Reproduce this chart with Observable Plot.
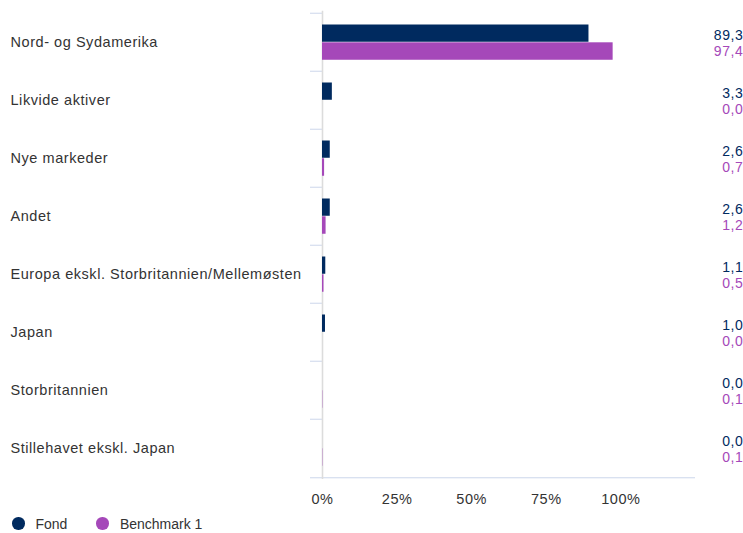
<!DOCTYPE html>
<html><head><meta charset="utf-8">
<script src="https://cdn.jsdelivr.net/npm/d3@7"></script>
<script src="https://cdn.jsdelivr.net/npm/@observablehq/plot@0.6"></script>
<style>
body{margin:0;background:#fff;font-family:"Liberation Sans",Arial,sans-serif;}
svg text{letter-spacing:0.55px;}
#legend{display:flex;align-items:center;height:23px;padding-top:2px;padding-left:12px;font-size:14px;color:#333;}
.item{display:flex;align-items:center;margin-right:29px;}
.dot{width:12.5px;height:12.5px;border-radius:50%;margin-right:11px;}
</style></head><body>
<div id="chart"></div>
<div id="legend"></div>
<script>
const categories = ["Nord- og Sydamerika","Likvide aktiver","Nye markeder","Andet","Europa ekskl. Storbritannien/Mellemøsten","Japan","Storbritannien","Stillehavet ekskl. Japan"];
const fondValues = [89.3, 3.3, 2.6, 2.6, 1.1, 1.0, 0.0, 0.0];
const benchValues = [97.4, 0.0, 0.7, 1.2, 0.5, 0.0, 0.1, 0.1];
const seriesNames = ["Fond", "Benchmark 1"];
const seriesColors = ["#002a5f", "#a548b9"];
const xTicks = [0, 25, 50, 75, 100];

const rows = categories.map((c, i) => ({category: c, fond: fondValues[i], bench: benchValues[i]}));
const fmt = v => d3.format(".1f")(v).replace(".", ",");

const W = 743, H = 510, mL = 322, mR = 48, mT = 10.7, mB = 31;
const bw = (H - mT - mB) / categories.length;
const plotW = W - mL - mR;

const chart = Plot.plot({
  width: W, height: H,
  marginLeft: mL, marginRight: mR, marginTop: mT, marginBottom: mB,
  style: {fontFamily: "'Liberation Sans', Arial, sans-serif", background: "#fff"},
  x: {domain: [0, 125]},
  y: {domain: categories, padding: 0, axis: null},
  marks: [
    Plot.ruleY(categories, {y: d => d, dy: -bw / 2, insetLeft: -12, insetRight: plotW - 1, stroke: "#ccd6eb", strokeWidth: 1}),
    Plot.ruleY([categories[categories.length - 1]], {y: d => d, dy: bw / 2, insetLeft: -12, stroke: "#ccd6eb", strokeWidth: 1}),
    Plot.ruleX([0], {stroke: "#dcdcdc", strokeWidth: 1.6}),
    Plot.barX(rows, {x: "fond", y: "category", fill: seriesColors[0], insetTop: 11.5, insetBottom: bw - 29.3}),
    Plot.barX(rows, {x: "bench", y: "category", fill: seriesColors[1], insetTop: 29.3, insetBottom: bw - 47.3}),
    Plot.text(rows, {y: "category", text: d => d.category, frameAnchor: "left", dx: -312, textAnchor: "start", fontSize: 14.5, fill: "#333"}),
    Plot.text(rows, {y: "category", text: d => fmt(d.fond), frameAnchor: "right", dx: 47.8, dy: -6.5, textAnchor: "end", fontSize: 14, fill: seriesColors[0]}),
    Plot.text(rows, {y: "category", text: d => fmt(d.bench), frameAnchor: "right", dx: 47.8, dy: 9.5, textAnchor: "end", fontSize: 14, fill: seriesColors[1]}),
    Plot.axisX({ticks: xTicks, tickFormat: d => d + "%", tickSize: 0, tickPadding: 14.5, fontSize: 14.5, fill: "#333", label: null})
  ]
});
document.getElementById("chart").appendChild(chart);

const legend = document.getElementById("legend");
seriesNames.forEach((name, i) => {
  const item = document.createElement("div");
  item.className = "item";
  const dot = document.createElement("span");
  dot.className = "dot";
  dot.style.background = seriesColors[i];
  const label = document.createElement("span");
  label.textContent = name;
  item.appendChild(dot);
  item.appendChild(label);
  legend.appendChild(item);
});
</script>
</body></html>
